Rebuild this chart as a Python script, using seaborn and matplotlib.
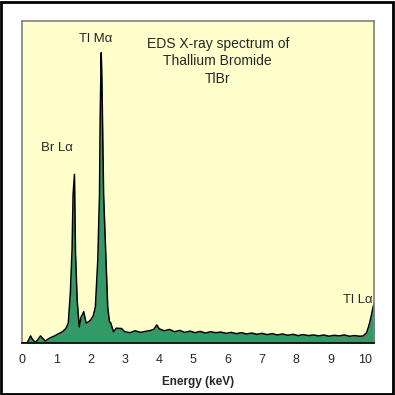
import matplotlib
matplotlib.use("Agg")
import matplotlib.pyplot as plt
import seaborn as sns
import pandas as pd
from matplotlib.patches import Rectangle

# EDS spectrum of TlBr (arbitrary intensity)
energy_kev = [0.0, 0.15, 0.25, 0.3, 0.39, 0.46, 0.54, 0.6, 0.68, 0.8, 0.95, 1.05,
              1.18, 1.28, 1.35, 1.41, 1.46, 1.49, 1.53, 1.56, 1.61, 1.67, 1.72, 1.77,
              1.80, 1.87, 1.93, 2.0, 2.08, 2.14, 2.21, 2.26, 2.28, 2.31, 2.33, 2.38,
              2.45, 2.5, 2.55, 2.58, 2.67, 2.75, 2.9,
              3.0, 3.15, 3.3, 3.45, 3.6, 3.75, 3.85, 3.93, 4.0, 4.15, 4.3, 4.45,
              4.6, 4.75, 4.9, 5.05, 5.2, 5.35, 5.5, 5.65, 5.8, 5.95, 6.1, 6.25,
              6.4, 6.55, 6.7, 6.85, 7.0, 7.15, 7.3, 7.45, 7.6, 7.75, 7.9, 8.05,
              8.2, 8.35, 8.5, 8.65, 8.8, 8.95, 9.1, 9.25, 9.4, 9.55, 9.7, 9.85,
              9.95, 10.05, 10.12, 10.18, 10.24, 10.28]
counts = [0, 0, 2.2, 1.2, 0.2, 1.0, 2.2, 1.5, 0.6, 1.5, 2.2, 2.8,
          3.5, 4.5, 6.2, 15.5, 28.8, 46, 52.3, 28, 13, 5, 8, 9,
          9.7, 6.2, 6.5, 7.1, 8.5, 11.2, 25.7, 46, 70, 90, 82, 46,
          25.7, 11.2, 6.6, 6.4, 3.5, 4.6, 4.5,
          3.5, 3.2, 3.8, 3.3, 3.6, 3.9, 4.3, 5.6, 4.4, 3.8, 4.2, 3.5,
          3.9, 3.3, 3.7, 3.2, 3.6, 3.1, 3.5, 3.2, 3.4, 3.0, 3.3, 2.9,
          3.2, 2.8, 3.1, 2.7, 3.0, 2.6, 2.9, 2.5, 2.8, 2.4, 2.7, 2.3,
          2.6, 2.3, 2.5, 2.2, 2.5, 2.1, 2.4, 2.2, 2.5, 2.1, 2.3, 2.1,
          2.2, 3.2, 5.5, 8.1, 11.2, 12.5]

peak_labels = ["Tl M\u03b1", "Br L\u03b1", "Tl L\u03b1"]
peak_pos = [(2.15, 94.4), (1.02, 60.4), (9.78, 13.3)]
title_text = "EDS X-ray spectrum of\nThallium Bromide\nTlBr"
x_ticks = [0, 1, 2, 3, 4, 5, 6, 7, 8, 9, 10]

df = pd.DataFrame({"Energy": energy_kev, "Counts": counts})

sns.set_style("white")
plt.rcParams["font.family"] = ["Liberation Sans", "DejaVu Sans"]

fig = plt.figure(figsize=(3.95, 3.95), dpi=100)
ax = fig.add_axes([0.0557, 0.1316, 0.8924, 0.8165])
ax.set_facecolor("#FFFFCC")

ax.fill_between(df["Energy"], df["Counts"], 0, color="#339966", lw=0)
sns.lineplot(data=df, x="Energy", y="Counts", ax=ax, color="black", lw=1.1)

ax.set_xlim(0, 10.28)
ax.set_ylim(0, 100)
ax.set_xticks(x_ticks)
ax.set_xticklabels([str(t) for t in x_ticks], fontsize=9)
ax.set_yticks([])
ax.tick_params(axis="x", length=0, pad=8)
ax.set_xlabel("Energy (keV)", fontsize=8.5, fontweight="bold", labelpad=7)
ax.set_ylabel("")

for side in ["left", "top", "right"]:
    ax.spines[side].set_color("#808080")
    ax.spines[side].set_linewidth(1.2)
ax.spines["bottom"].set_color("black")
ax.spines["bottom"].set_linewidth(1.2)

for lab, (px, py) in zip(peak_labels, peak_pos):
    ax.text(px, py, lab, ha="center", va="center", fontsize=9.5)
ax.text(5.71, 87.3, title_text, ha="center", va="center", fontsize=10, linespacing=1.3)

fig.patches.append(Rectangle((0.002, 0.002), 0.994, 0.994, transform=fig.transFigure,
                             fill=False, edgecolor="black", lw=2))

fig.savefig("out.png", dpi=100)
